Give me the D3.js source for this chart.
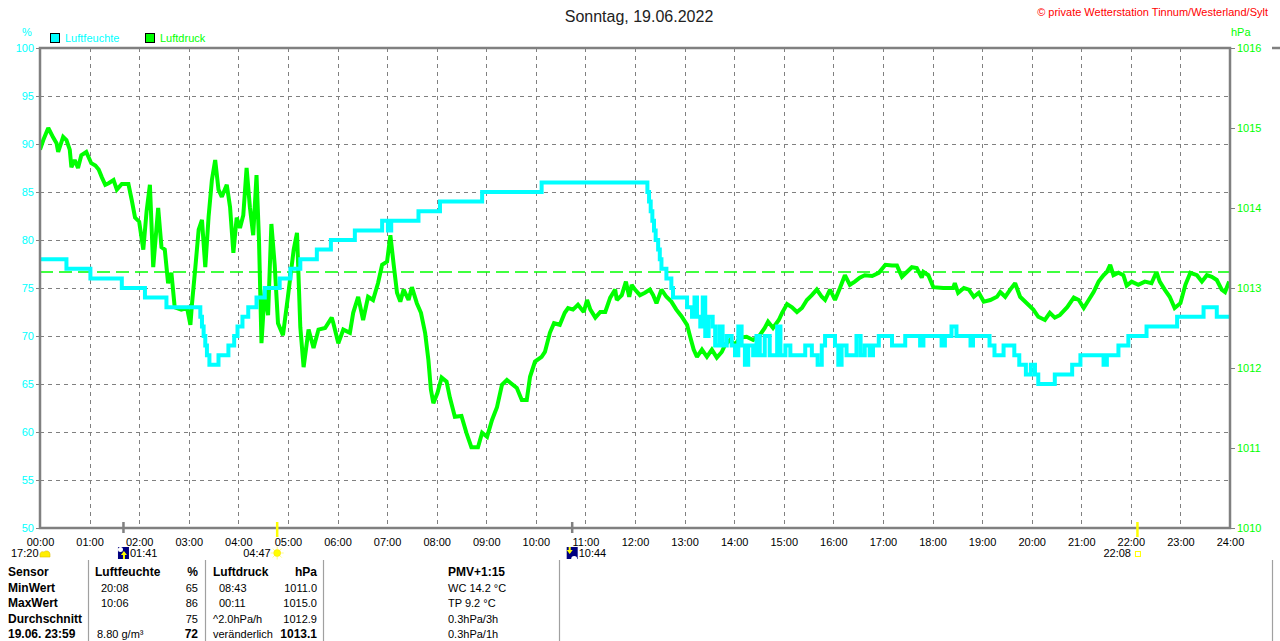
<!DOCTYPE html>
<html>
<head>
<meta charset="utf-8">
<script src="https://cdn.jsdelivr.net/npm/d3@7"></script>
<style>
body { margin: 0; background: #fff; }
svg { display: block; font-family: "Liberation Sans", Arial, sans-serif; }
</style>
</head>
<body>
<div id="chart-area"></div>
<script>
// ---- DATA
var titel = "Sonntag, 19.06.2022";
var copyright = "\u00a9 private Wetterstation Tinnum/Westerland/Sylt";

var stunden = d3.range(0, 25);                 // x ticks (hours)
var feuchteTicks = d3.range(50, 101, 5);        // left axis %
var druckTicks = d3.range(1010, 1017, 1);       // right axis hPa
var druckReferenz = 1013.2;                     // dashed line

// Luftfeuchte [minute, %] (step line)
var luftfeuchte = [
  [0,78],[32,77],[61,76],[99,75],[127,74],[153,73],[194,72],[196,71],[198,70],[200,69],[202,68],[205,67],
  [216,68],[228,69],[235,70],[239,71],[245,72],[252,73],[262,74],[272,75],[290,76],[303,77],[315,78],
  [335,79],[352,80],[381,81],[414,82],[421,81],[425,82],[458,83],[484,84],[535,85],[607,86],
  [735,85],[737,84],[739,83],[741,82],[743,81],[745,80],[748,79],[750,78],[752,77],[758,76],[764,75],
  [766,74],[783,73],[789,72],[792,74],[795,72],[799,71],[802,74],[805,70],[809,72],[814,71],[817,69],
  [822,71],[826,69],[831,70],[837,69],[841,68],[845,71],[849,69],[853,67],[857,69],[863,68],[867,70],
  [871,68],[877,70],[883,68],[892,71],[896,68],[902,69],[908,68],[926,69],[934,68],[941,67],[946,69],
  [950,70],[962,69],[966,67],[970,69],[976,68],[988,70],[993,68],[998,69],[1004,68],[1008,69],[1015,70],
  [1031,69],[1047,70],[1065,69],[1069,70],[1091,69],[1095,70],[1103,71],[1109,70],[1126,69],[1129,70],
  [1149,69],[1155,68],[1166,69],[1179,68],[1185,67],[1193,66],[1199,67],[1204,66],[1208,65],[1228,66],
  [1249,67],[1259,68],[1287,67],[1291,68],[1305,69],[1317,70],[1339,71],[1376,72],[1408,73],[1424,72],[1440,72]
];

// Luftdruck [minute, hPa]
var luftdruck = [
  [0,1014.73],[4,1014.85],[10,1015.00],[16,1014.88],[20,1014.81],[22,1014.70],[28,1014.89],[32,1014.85],
  [36,1014.73],[38,1014.51],[42,1014.60],[46,1014.50],[50,1014.66],[56,1014.70],[62,1014.56],[67,1014.53],
  [71,1014.48],[75,1014.38],[79,1014.29],[83,1014.31],[89,1014.35],[93,1014.23],[99,1014.30],[107,1014.30],
  [111,1014.10],[115,1013.88],[120,1013.83],[125,1013.48],[129,1013.96],[133,1014.29],[137,1013.26],
  [143,1014.00],[147,1013.51],[151,1013.48],[155,1013.06],[159,1013.19],[163,1012.76],[171,1012.73],
  [178,1012.75],[182,1012.54],[184,1012.81],[188,1013.26],[192,1013.73],[196,1013.85],[200,1013.26],
  [204,1013.89],[208,1014.35],[212,1014.60],[216,1014.23],[220,1014.14],[226,1014.29],[230,1014.01],
  [234,1013.44],[238,1013.88],[242,1013.75],[246,1013.91],[250,1014.50],[254,1014.01],[258,1013.66],
  [262,1014.41],[265,1013.60],[268,1012.31],[272,1012.98],[276,1012.66],[280,1013.80],[284,1013.29],
  [288,1012.56],[294,1012.41],[300,1012.89],[307,1013.48],[311,1013.69],[315,1012.51],[319,1012.01],
  [325,1012.48],[331,1012.25],[337,1012.48],[345,1012.50],[353,1012.63],[355,1012.56],[361,1012.31],
  [367,1012.48],[375,1012.44],[379,1012.69],[385,1012.89],[391,1012.60],[397,1012.89],[403,1012.85],
  [409,1013.06],[414,1013.29],[420,1013.33],[424,1013.66],[428,1013.29],[432,1012.94],[436,1012.83],
  [440,1012.98],[446,1012.85],[450,1013.01],[456,1012.81],[461,1012.69],[466,1012.44],[470,1012.10],
  [473,1011.73],[476,1011.56],[481,1011.69],[486,1011.88],[492,1011.83],[496,1011.63],[502,1011.39],
  [510,1011.40],[516,1011.19],[522,1011.01],[530,1011.01],[535,1011.19],[541,1011.14],[547,1011.35],
  [553,1011.51],[559,1011.79],[565,1011.85],[571,1011.80],[577,1011.75],[583,1011.60],[589,1011.60],
  [593,1011.89],[599,1012.08],[607,1012.14],[611,1012.20],[617,1012.44],[622,1012.56],[629,1012.54],
  [635,1012.69],[639,1012.75],[645,1012.73],[651,1012.79],[658,1012.70],[662,1012.85],[666,1012.73],
  [672,1012.63],[678,1012.70],[684,1012.70],[690,1012.88],[696,1012.98],[698,1012.85],[704,1012.91],
  [709,1013.08],[713,1012.89],[716,1013.04],[720,1012.98],[726,1012.91],[732,1012.94],[738,1012.98],
  [742,1012.91],[746,1012.81],[752,1012.98],[758,1012.89],[764,1012.83],[770,1012.73],[776,1012.65],
  [783,1012.54],[787,1012.38],[791,1012.23],[795,1012.14],[801,1012.23],[807,1012.14],[813,1012.23],
  [819,1012.13],[825,1012.20],[829,1012.29],[835,1012.35],[841,1012.29],[847,1012.38],[855,1012.39],
  [863,1012.35],[871,1012.41],[877,1012.50],[881,1012.58],[887,1012.50],[894,1012.60],[898,1012.69],
  [904,1012.80],[910,1012.76],[916,1012.70],[922,1012.75],[928,1012.85],[934,1012.91],[940,1012.98],
  [946,1012.89],[950,1012.85],[956,1012.98],[962,1012.85],[968,1013.00],[974,1013.16],[980,1013.04],
  [986,1013.08],[992,1013.13],[998,1013.16],[1007,1013.15],[1015,1013.19],[1023,1013.29],[1031,1013.28],
  [1037,1013.28],[1043,1013.14],[1049,1013.20],[1055,1013.26],[1061,1013.25],[1067,1013.13],[1069,1013.20],
  [1075,1013.16],[1081,1013.01],[1093,1013.00],[1105,1013.00],[1107,1013.06],[1111,1012.94],[1118,1013.00],
  [1124,1012.98],[1130,1012.89],[1136,1012.94],[1142,1012.83],[1150,1012.85],[1158,1012.89],[1162,1012.95],
  [1168,1012.89],[1174,1012.98],[1180,1013.06],[1186,1012.89],[1190,1012.85],[1196,1012.79],[1202,1012.73],
  [1208,1012.64],[1216,1012.60],[1222,1012.69],[1228,1012.63],[1234,1012.66],[1243,1012.76],[1251,1012.88],
  [1257,1012.85],[1263,1012.75],[1269,1012.85],[1275,1012.95],[1281,1013.08],[1287,1013.16],[1291,1013.20],
  [1295,1013.29],[1299,1013.16],[1305,1013.19],[1311,1013.16],[1315,1013.03],[1321,1013.08],[1329,1013.04],
  [1337,1013.08],[1345,1013.06],[1351,1013.20],[1355,1013.08],[1361,1012.98],[1367,1012.89],[1373,1012.75],
  [1380,1012.81],[1386,1013.04],[1392,1013.19],[1400,1013.16],[1406,1013.08],[1412,1013.16],[1418,1013.14],
  [1424,1013.10],[1430,1012.98],[1434,1012.95],[1439,1013.08]
];

// Sonne / Mond Ereignisse
var ereignisZeit = ["17:20", "01:41", "04:47", "10:44", "22:08"];
var ereignisTyp = ["wolke", "mondauf", "sonnenauf", "mondunter", "sonnenunter"];

// Tabelle
var zeilenTitel = ["Sensor", "MinWert", "MaxWert", "Durchschnitt", "19.06. 23:59"];
var feuchteText = ["Luftfeuchte", "20:08", "10:06", "", "8.80 g/m\u00b3"];
var feuchteWert = ["%", "65", "86", "75", "72"];
var druckText = ["Luftdruck", "08:43", "00:11", "^2.0hPa/h", "ver\u00e4nderlich"];
var druckWert = ["hPa", "1011.0", "1015.0", "1012.9", "1013.1"];
var pmvText = ["PMV+1:15", "WC 14.2 \u00b0C", "TP 9.2 \u00b0C", "0.3hPa/3h", "0.3hPa/1h"];

// ---- LAYOUT
var width = 1280, height = 641;
var plot = { left: 40, right: 1230, top: 48, bottom: 528 };
var CYAN = "#00ffff", GREEN = "#00ff00", GRAY = "#808080";

var svg = d3.select("#chart-area").append("svg")
    .attr("width", width)
    .attr("height", height);

// SCALES
var x = d3.scaleLinear().domain([0, 1440]).range([plot.left, plot.right]);
var yF = d3.scaleLinear().domain([50, 100]).range([plot.bottom, plot.top]);
var yD = d3.scaleLinear().domain([1010, 1016]).range([plot.bottom, plot.top]);

// GRID
var gridX = svg.append("g")
    .attr("transform", "translate(0," + plot.top + ")")
    .call(d3.axisBottom(x).tickValues(stunden.slice(1, -1).map(h => h * 60))
        .tickSize(plot.bottom - plot.top).tickFormat(""));
gridX.select(".domain").remove();
gridX.selectAll("line").attr("stroke", GRAY).attr("stroke-dasharray", "4,4")
    .attr("shape-rendering", "crispEdges");

var gridY = svg.append("g")
    .attr("transform", "translate(" + plot.left + ",0)")
    .call(d3.axisLeft(yF).tickValues(feuchteTicks.slice(1, -1))
        .tickSize(-(plot.right - plot.left)).tickFormat(""));
gridY.select(".domain").remove();
gridY.selectAll("line").attr("stroke", GRAY).attr("stroke-dasharray", "4,4")
    .attr("shape-rendering", "crispEdges");

// reference dashed line
svg.append("line")
    .attr("x1", x(0)).attr("x2", x(1440))
    .attr("y1", yD(druckReferenz)).attr("y2", yD(druckReferenz))
    .attr("stroke", GREEN).attr("stroke-width", 1.6).attr("stroke-dasharray", "13,6");

// clip
svg.append("clipPath").attr("id", "clip").append("rect")
    .attr("x", plot.left).attr("y", plot.top)
    .attr("width", plot.right - plot.left).attr("height", plot.bottom - plot.top);

// LINES
var druckLine = d3.line().x(d => x(d[0])).y(d => yD(d[1]));
svg.append("path").datum(luftdruck)
    .attr("clip-path", "url(#clip)")
    .attr("d", druckLine)
    .attr("fill", "none").attr("stroke", GREEN).attr("stroke-width", 4)
    .attr("stroke-linejoin", "miter").attr("stroke-miterlimit", 2);

var feuchteLine = d3.line().x(d => x(d[0])).y(d => yF(d[1])).curve(d3.curveStepAfter);
svg.append("path").datum(luftfeuchte)
    .attr("clip-path", "url(#clip)")
    .attr("d", feuchteLine)
    .attr("fill", "none").attr("stroke", CYAN).attr("stroke-width", 4);

// FRAME
svg.append("rect")
    .attr("x", plot.left).attr("y", plot.top)
    .attr("width", plot.right - plot.left).attr("height", plot.bottom - plot.top)
    .attr("fill", "none").attr("stroke", GRAY).attr("stroke-width", 2.5);
svg.append("line").attr("x1", 1272).attr("x2", 1280).attr("y1", plot.top).attr("y2", plot.top)
    .attr("stroke", GRAY).attr("stroke-width", 2.5);

// AXES
var leftAxis = svg.append("g")
    .attr("transform", "translate(" + plot.left + ",0)")
    .call(d3.axisLeft(yF).tickValues(feuchteTicks).tickSize(4).tickPadding(2));
leftAxis.select(".domain").remove();
leftAxis.selectAll("line").attr("stroke", GRAY);
leftAxis.selectAll("text").attr("fill", CYAN).attr("font-size", "11px")
    .attr("font-family", "Liberation Sans, Arial, sans-serif");

var rightAxis = svg.append("g")
    .attr("transform", "translate(" + plot.right + ",0)")
    .call(d3.axisRight(yD).tickValues(druckTicks).tickSize(5).tickPadding(2)
        .tickFormat(d3.format("d")));
rightAxis.select(".domain").remove();
rightAxis.selectAll("line").attr("stroke", GRAY);
rightAxis.selectAll("text").attr("fill", GREEN).attr("font-size", "11px")
    .attr("font-family", "Liberation Sans, Arial, sans-serif");

var bottomAxis = svg.append("g")
    .attr("transform", "translate(0," + plot.bottom + ")")
    .call(d3.axisBottom(x).tickValues(stunden.map(h => h * 60)).tickSize(0).tickPadding(10)
        .tickFormat(d => d3.format("02")(d / 60) + ":00"));
bottomAxis.select(".domain").remove();
bottomAxis.selectAll("text").attr("fill", "#000").attr("font-size", "11px")
    .attr("font-family", "Liberation Sans, Arial, sans-serif");

// unit labels
svg.append("text").attr("x", 27).attr("y", 36).attr("text-anchor", "middle")
    .attr("font-size", "11px").attr("fill", CYAN).text("%");
svg.append("text").attr("x", 1231).attr("y", 36)
    .attr("font-size", "11px").attr("fill", GREEN).text("hPa");

// TITLE
svg.append("text").attr("x", 639).attr("y", 22).attr("text-anchor", "middle")
    .attr("font-size", "16px").attr("fill", "#222").text(titel);
svg.append("text").attr("x", 1268).attr("y", 16).attr("text-anchor", "end")
    .attr("font-size", "11px").attr("fill", "#ff0000").text(copyright);

// LEGEND
var legend = [["Luftfeuchte", CYAN, 50], ["Luftdruck", GREEN, 145]];
legend.forEach(function (l) {
    svg.append("rect").attr("x", l[2] + 0.5).attr("y", 33.5).attr("width", 9).attr("height", 9)
        .attr("fill", l[1]).attr("stroke", "#000");
    svg.append("text").attr("x", l[2] + 15).attr("y", 42)
        .attr("font-size", "11px").attr("fill", l[1]).text(l[0]);
});

// SUN / MOON EVENTS
var evY = 553;
ereignisZeit.forEach(function (t, i) {
    var typ = ereignisTyp[i];
    var p = t.split(":");
    var min = +p[0] * 60 + +p[1];
    var cx = typ === "wolke" ? x(0) + 5 : x(min);
    var g = svg.append("g");
    var istSonne = typ === "sonnenauf" || typ === "sonnenunter";
    if (typ !== "wolke") {
        g.append("line").attr("x1", cx).attr("x2", cx).attr("y1", 522).attr("y2", istSonne ? 537 : 533)
            .attr("stroke", istSonne ? "#ffff00" : GRAY).attr("stroke-width", 2.5);
    }
    if (typ === "wolke") {
        g.append("path")
            .attr("d", "M" + (cx - 5) + "," + (evY + 4) + " L" + (cx - 5) + "," + (evY + 1)
                + " A3,3 0 0 1 " + (cx - 1) + "," + (evY - 1)
                + " A3.5,3.5 0 0 1 " + (cx + 5) + "," + (evY + 1)
                + " L" + (cx + 5) + "," + (evY + 4) + " Z")
            .attr("fill", "#ffee00").attr("stroke", "#e0c000").attr("stroke-width", 0.6);
    } else if (typ === "mondauf" || typ === "mondunter") {
        g.append("rect").attr("x", cx - 5.5).attr("y", evY - 6).attr("width", 11).attr("height", 12)
            .attr("fill", "#000080");
        if (typ === "mondauf") {
            g.append("circle").attr("cx", cx - 3).attr("cy", evY - 3.5).attr("r", 2.5).attr("fill", "#fff");
            g.append("path")
                .attr("d", "M" + (cx + 0.5) + "," + (evY - 2) + " l3,4 h-2 v4 h-2 v-4 h-2 Z")
                .attr("fill", "#ffff00");
        } else {
            g.append("path")
                .attr("d", "M" + (cx - 2.5) + "," + (evY + 1) + " l3,-4 h-2 v-3 h-2 v3 h-2 Z")
                .attr("fill", "#ffff00");
            g.append("path")
                .attr("d", "M" + (cx - 1) + "," + (evY + 6) + " a3,3 0 0 1 6,0 Z")
                .attr("fill", "#fff");
        }
        g.append("text").attr("x", cx + 6.5).attr("y", evY + 4)
            .attr("font-size", "11px").attr("fill", "#000").text(t);
        return;
    } else if (typ === "sonnenauf") {
        d3.range(8).forEach(function (k) {
            var a = k * Math.PI / 4;
            g.append("line")
                .attr("x1", cx + Math.cos(a) * 4).attr("y1", evY + Math.sin(a) * 4)
                .attr("x2", cx + Math.cos(a) * 6.5).attr("y2", evY + Math.sin(a) * 6.5)
                .attr("stroke", "#ffff80").attr("stroke-width", 1);
        });
        g.append("circle").attr("cx", cx).attr("cy", evY).attr("r", 3.5)
            .attr("fill", "#ffff00").attr("stroke", "#ffe000").attr("stroke-width", 0.6);
    } else {
        g.append("rect").attr("x", cx - 2).attr("y", evY - 1.5).attr("width", 5).attr("height", 5)
            .attr("fill", "#fff").attr("stroke", "#ffff00").attr("stroke-width", 1);
    }
    g.append("text").attr("x", cx - 6.5).attr("y", evY + 4).attr("text-anchor", "end")
        .attr("font-size", "11px").attr("fill", "#000").text(t);
});

// TABLE
var tab = svg.append("g").attr("font-size", "11px").attr("fill", "#000");
[88, 205, 323, 559, 1272].forEach(function (xx) {
    tab.append("line").attr("x1", xx + 0.5).attr("x2", xx + 0.5).attr("y1", 560).attr("y2", height)
        .attr("stroke", "#a0a0a0").attr("stroke-width", 1.2);
});
var zeileY = [576, 591.5, 607, 622.5, 638];
function zelle(txt, xx, yy, fett, anchor) {
    tab.append("text").attr("x", xx).attr("y", yy)
        .attr("text-anchor", anchor || "start")
        .attr("font-weight", fett ? "bold" : "normal")
        .attr("font-size", fett ? "12px" : "11px")
        .text(txt);
}
zeileY.forEach(function (yy, i) {
    var kopf = i === 0, letzte = i === 4;
    zelle(zeilenTitel[i], 8, yy, true);
    zelle(feuchteText[i], kopf ? 95 : (letzte ? 97 : 101), yy, kopf);
    zelle(feuchteWert[i], 198, yy, kopf || letzte, "end");
    zelle(druckText[i], (kopf || i > 2) ? 213 : 219, yy, kopf);
    zelle(druckWert[i], 317, yy, kopf || letzte, "end");
    zelle(pmvText[i], 448, yy, kopf);
});
</script>
</body>
</html>
